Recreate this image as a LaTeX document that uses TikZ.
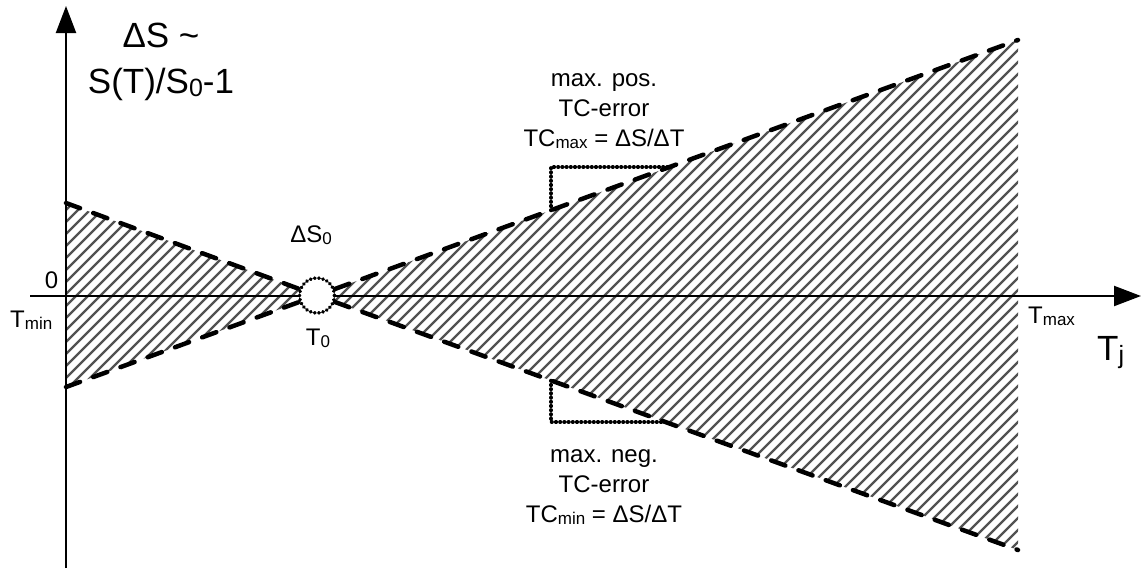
\documentclass[tikz,border=0pt]{standalone}
\usepackage{fontspec}
\setmainfont{Liberation Sans}
\usetikzlibrary{arrows.meta}
\newcommand\subsm[1]{\raisebox{-2.5pt}{\fontsize{17}{17}\selectfont #1}}
\newcommand\subbig[1]{\raisebox{-3pt}{\fontsize{25}{25}\selectfont #1}}
\begin{document}
\begin{tikzpicture}[x=1pt,y=-1pt,
  axis/.style={line width=2.2pt, -{Triangle[length=27pt,width=20pt]}},
  bound/.style={line width=4.5pt, dash pattern=on 15pt off 14pt, line cap=round},
  dotline/.style={line width=3.5pt, dash pattern=on 0.6pt off 3.6pt, line cap=round},
  hatch/.style={line width=2.2pt, black!68},
  small/.style={font=\fontsize{24}{30}\selectfont, inner sep=0pt},
  big/.style={font=\fontsize{35}{46}\selectfont, inner sep=0pt}]
\useasboundingbox (0,0) rectangle (1141,568);
% key points
\coordinate (ul) at (66,203);
\coordinate (ll) at (66,387);
\coordinate (ur) at (1018,40);
\coordinate (lr) at (1018,550);
\coordinate (cc) at (317,295.5);
\coordinate (yb) at (66,568);
\coordinate (yt) at (66,6);
\coordinate (xl) at (30,296);
\coordinate (xr) at (1141,296);
\coordinate (pa) at (551,210.5);
\coordinate (pb) at (551,167);
\coordinate (pc) at (668,167);
\coordinate (na) at (551,380.5);
\coordinate (nb) at (551,422);
\coordinate (nc) at (665,422);
% hatching
\begin{scope}
\clip (ul) -- (cc) -- (ll) -- cycle (cc) -- (ur) -- (lr) -- cycle;
\foreach \c in {-600,-588,...,1100} \draw[hatch] (\c,600) -- ++(600,-600);
\end{scope}
% axes
\draw[axis] (yb) -- (yt);
\draw[axis] (xl) -- (xr);
% circle at T0
\node[circle, draw, fill=white, dotline, minimum size=35pt, inner sep=0pt] (c) at (cc) {};
% boundaries
\draw[bound] (ul) -- (c);
\draw[bound] (ll) -- (c);
\draw[bound] (c) -- (ur);
\draw[bound] (c) -- (lr);
% step boxes
\draw[dotline] (pa) -- (pb) -- (pc);
\draw[dotline] (na) -- (nb) -- (nc);
% labels
\node[big, align=center] (ylab) at (161,62) {ΔS \textasciitilde\\S(T)/S\subbig{0}-1};
\node[small, align=center] (pos) at (604,111) {max. pos.\\TC-error\\TC\subsm{max} = ΔS/ΔT};
\node[small, align=center] (neg) at (604,487) {max. neg.\\TC-error\\TC\subsm{min} = ΔS/ΔT};
\node[small, anchor=base] (ds0) at (311,242) {ΔS\subsm{0}};
\node[small, anchor=base] (t0) at (318,345) {T\subsm{0}};
\node[small, anchor=base] (zero) at (51.5,288) {0};
\node[small, anchor=base west] (tmin) at (10,327) {T\subsm{min}};
\node[small, anchor=base west] (tmax) at (1028,323) {T\subsm{max}};
\node[big, anchor=base west] (tj) at (1097,360) {T\subbig{j}};
\end{tikzpicture}
\end{document}
